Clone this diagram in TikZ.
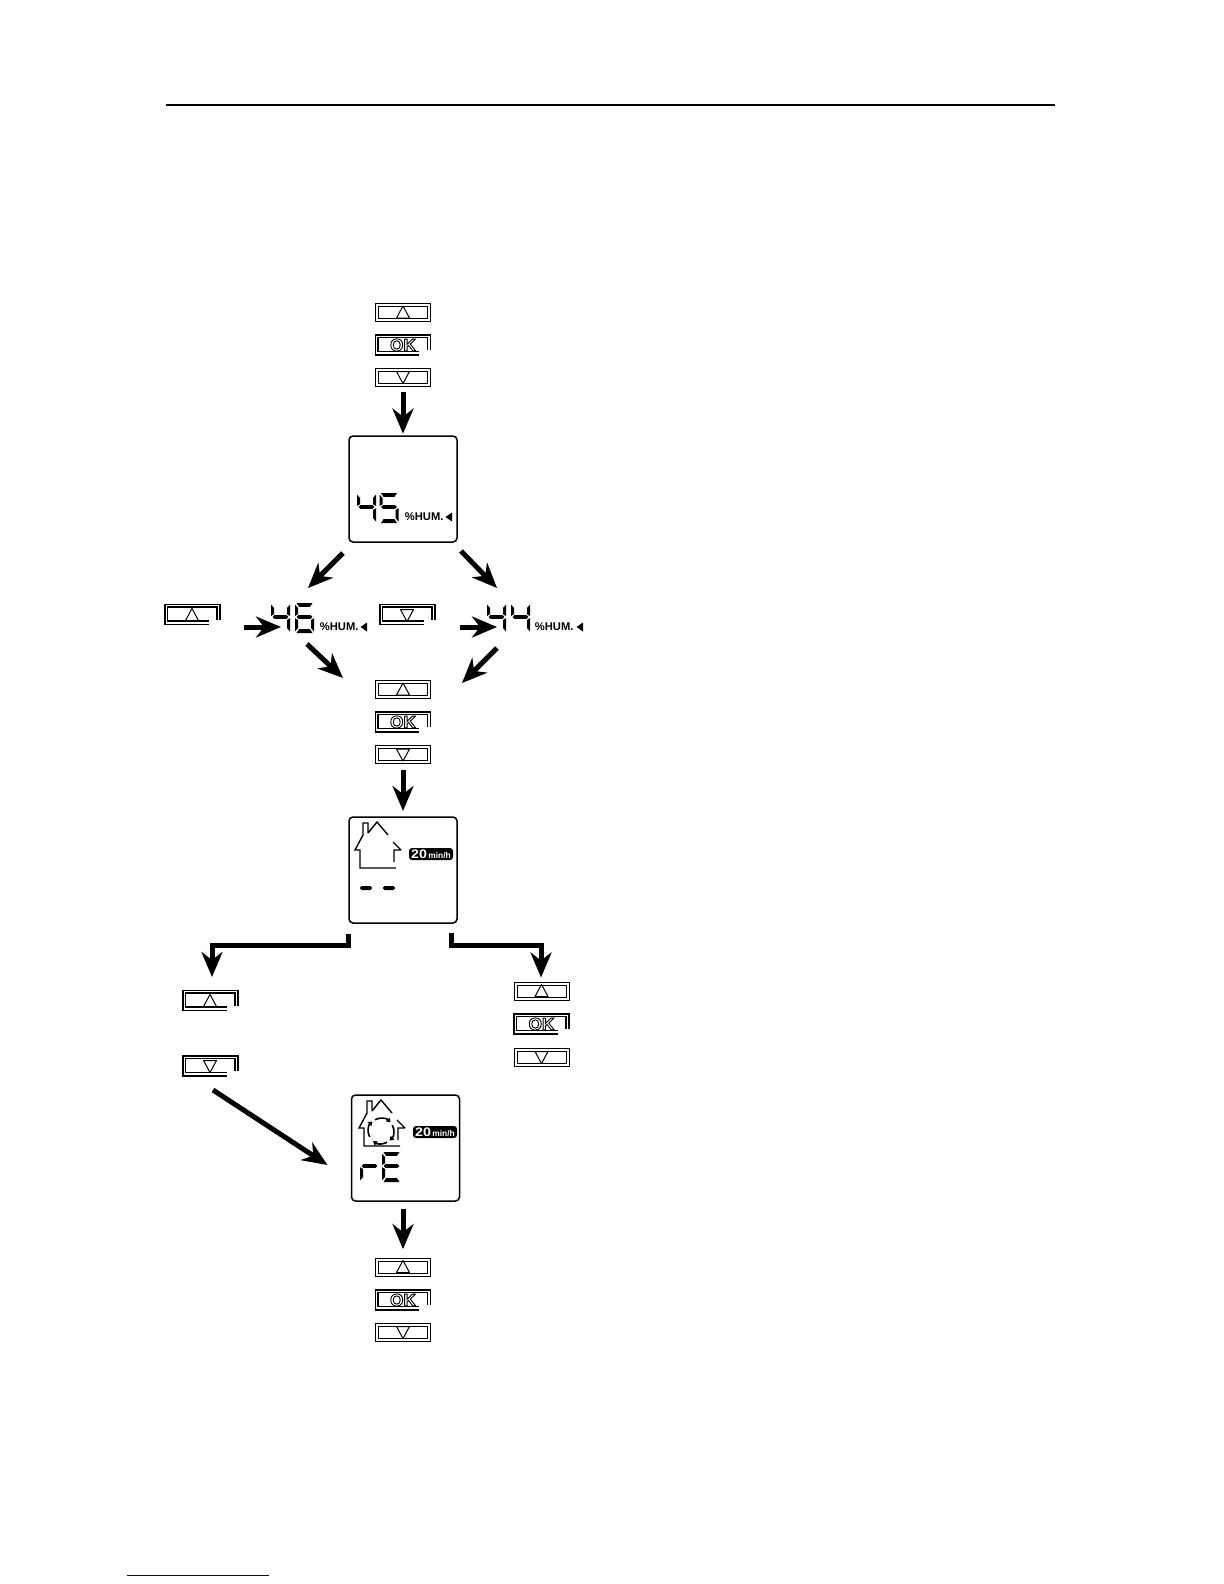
\documentclass[tikz,border=0pt]{standalone}
\usepackage{fontspec}
\setmainfont{Liberation Sans}
\usetikzlibrary{arrows.meta,calc}
\definecolor{linkblue}{RGB}{0,0,128}
\newcommand\dsega{(1.5,0)--(17.5,0)--(15,3.8)--(4,3.8)--cycle}
\newcommand\dsegd{(4,26.2)--(15,26.2)--(17.5,30)--(1.5,30)--cycle}
\newcommand\dsegg{(1.5,14)--(3.5,12.2)--(15.5,12.2)--(17.5,14)--(15.5,15.8)--(3.5,15.8)--cycle}
\newcommand\dsegf{(0,1.5)--(3,5)--(3,11.2)--(0,13)--cycle}
\newcommand\dsegb{(19,1.5)--(19,13)--(16,11.2)--(16,5)--cycle}
\newcommand\dsege{(0,15.2)--(3,17)--(3,25)--(0,28.5)--cycle}
\newcommand\dsegc{(19,15.2)--(19,28.5)--(16,25)--(16,17)--cycle}
\newcommand\onesegment[1]{\expandafter\fill\csname dseg#1\endcsname;}
\newcommand\sevenseg[3]{\begin{scope}[shift={(#1,#2)}]\foreach \s in {#3}{\onesegment{\s}}\end{scope}}
\newcommand\uptri[2]{\draw[glyphline,shift={(#1,#2)}] (0,-6.5)--(6.5,5.5)--(-6.5,5.5)--cycle;}
\newcommand\downtri[2]{\draw[glyphline,shift={(#1,#2)}] (0,6.5)--(6.5,-5.5)--(-6.5,-5.5)--cycle;}
\newcommand\opencase[2]{%
  \draw[btnline,shift={(#1,#2)}] (16,10)--(-27.5,10)--(-27.5,-10)--(27.5,-10)--(27.5,5);
  \draw[btnline,shift={(#1,#2)}] (16,6.5)--(-25,6.5)--(-25,-7.5)--(24.5,-7.5)--(24.5,5);}
\newcommand\okword{\special{pdf:code 1 Tr 0.45 w}OK\special{pdf:code 0 Tr}}
\newcommand\house[2]{%
  \draw[houseline,shift={(#1,#2)}] (388,835)--(377,822)--(368,833)--(368,823)--(363,823)--(363,835)--(355,850)--(360,850)--(360,868)--(396,868);
  \draw[houseline,shift={(#1,#2)}] (393,842)--(401,850)--(394,850)--(394,862);}
\newcommand\pointermark[2]{\fill[shift={(#1,#2)}] (-0.5,0)--(6,-4.5)--(6,4.5)--cycle;}
\newcommand\badgetext{\scalebox{1.15}[1]{\fontsize{6.2}{7}\selectfont 20}\fontsize{4.2}{5}\selectfont\,min/h}
\tikzset{
  x=0.5pt,y=-0.5pt,
  btnbox/.style={draw=black,double=white,double distance=1pt,line width=0.5pt,minimum width=26pt,minimum height=7.5pt,inner sep=0pt,outer sep=0pt,rectangle},
  opennode/.style={minimum width=27.5pt,minimum height=10pt,inner sep=0pt,outer sep=0pt,rectangle},
  btnline/.style={line width=0.55pt,black},
  glyphline/.style={line width=0.5pt,black,line join=round},
  disp/.style={draw=black,line width=0.75pt,rounded corners=2pt,minimum width=54pt,minimum height=53pt,inner sep=0pt,outer sep=0pt,rectangle},
  readout/.style={minimum width=48pt,minimum height=15pt,inner sep=0pt,outer sep=0pt,rectangle},
  okfont/.style={font=\fontsize{8.6}{9}\selectfont\bfseries,inner sep=0pt,black},
  humfont/.style={font=\fontsize{5.6}{6}\selectfont\bfseries,inner sep=0pt,anchor=west},
  badge/.style={fill=black,rounded corners=1.5pt,text=white,inner sep=0pt,minimum width=22pt,minimum height=6pt,font=\bfseries},
  arr/.style={line width=2.5pt,-{Stealth[length=12.5pt,width=10.5pt,inset=4pt]},black,line cap=butt,line join=miter},
  houseline/.style={line width=0.7pt,black,line join=miter,miter limit=2},
  ringline/.style={line width=0.8pt,black,-{Triangle[length=2pt,width=2.6pt]}},
}
\begin{document}
\begin{tikzpicture}
\fill[white] (0,0) rectangle (1224,1584);
\useasboundingbox (0,0) rectangle (1224,1584);
% rules
\draw[line width=1pt,black] (166,105)--(1055,105);
\draw[line width=0.5pt,linkblue] (127,1575)--(269,1575);
% first button stack
\node[btnbox] (upA) at (403,312.5) {}; \uptri{403}{312.5}
\opencase{403}{345} \node[opennode,okfont] (okA) at (403,345) {\okword};
\node[btnbox] (downA) at (403,377) {}; \downtri{403}{377}
% first display
\node[disp] (dispA) at (403,489) {};
\sevenseg{357}{493}{f,g,b,c}
\sevenseg{379.5}{493}{a,f,g,c,d}
\node[humfont] (humA) at (404.5,517) {\%HUM.};
\pointermark{446}{517}
% side buttons
\node[opennode] (upL) at (192.5,614.5) {}; \opencase{192.5}{614.5} \uptri{192}{615}
\node[opennode] (downM) at (407.5,614.5) {}; \opencase{407.5}{614.5} \downtri{407}{615}
% readouts
\node[readout] (roL) at (319,618) {};
\sevenseg{271}{603}{f,g,b,c}
\sevenseg{295}{603}{a,f,g,e,c,d}
\node[humfont] (humL) at (319.5,627) {\%HUM.};
\pointermark{361}{627}
\node[readout] (roR) at (535,618) {};
\sevenseg{487}{603}{f,g,b,c}
\sevenseg{511}{603}{f,g,b,c}
\node[humfont] (humR) at (534.5,627) {\%HUM.};
\pointermark{577}{627}
% second stack
\node[btnbox] (upB) at (403,689.5) {}; \uptri{403}{689.5}
\opencase{403}{722} \node[opennode,okfont] (okB) at (403,722) {\okword};
\node[btnbox] (downB) at (403,754.5) {}; \downtri{403}{754.5}
% second display
\node[disp] (dispB) at (403,870) {};
\house{0}{0}
\node[badge] (badgeB) at (431,854) {\badgetext};
\fill[rounded corners=0.8pt] (360,886) rectangle (372,890);
\fill[rounded corners=0.8pt] (383,886) rectangle (395,890);
% lower left
\node[opennode] (upC) at (210.5,1000.5) {}; \opencase{210.5}{1000.5} \uptri{210}{1001}
\node[opennode] (downC) at (210.5,1066) {}; \opencase{210.5}{1066} \downtri{210}{1066}
% right stack
\node[btnbox] (upR) at (541.5,991) {}; \uptri{541.5}{991}
\opencase{541.5}{1024} \node[opennode,okfont] (okR) at (541.5,1024) {\okword};
\node[btnbox] (downR) at (541.5,1057) {}; \downtri{541.5}{1057}
% third display
\node[disp] (dispC) at (405.5,1148) {};
\house{4}{278}
\foreach \a/\b in {118/42,28/-48,-62/-128,208/132}{
  \draw[ringline] (381,1131) ++(\a:6.4pt) arc[start angle=\a,end angle=\b,radius=6.4pt];
}
\node[badge] (badgeC) at (435,1132) {\badgetext};
\sevenseg{360}{1152}{g,e}
\sevenseg{382}{1152}{a,f,g,e,d}
% last stack
\node[btnbox] (upD) at (403,1267) {}; \uptri{403}{1267}
\opencase{403}{1300} \node[opennode,okfont] (okD) at (403,1300) {\okword};
\node[btnbox] (downD) at (403,1332) {}; \downtri{403}{1332}
% connectors
\draw[arr,shorten <=3.5pt,shorten >=1.2pt] (downA.south) -- (dispA.north);
\draw[arr] ([shift={(-6,11)}]dispA.south west) -- ([shift={(-11,-15)}]roL.north);
\draw[arr] ([shift={(4,9)}]dispA.south east) -- ([shift={(-38,-15)}]roR.north);
\draw[arr] ([shift={(24,2.5)}]upL.south east) -- ([shift={(10,9)}]roL.west);
\draw[arr] ([shift={(25,2.5)}]downM.south east) -- ([shift={(10,9)}]roR.west);
\draw[arr] ([shift={(-12,11)}]roL.south) -- ([shift={(-34,-11.5)}]upB.west);
\draw[arr] ([shift={(-38,15)}]roR.south) -- ([shift={(33,-6.5)}]upB.east);
\draw[arr,shorten <=4pt,shorten >=3pt] (downB.south) -- (dispB.north);
\coordinate (elbowL) at (212,945);
\coordinate (elbowR) at (541,945);
\draw[arr] ([shift={(-1,11)}]dispB.south west) |- (elbowL) -- ([shift={(1.5,-13.5)}]upC.north);
\draw[arr] ([shift={(-6,10)}]dispB.south east) |- (elbowR) -- ([shift={(-0.5,-6)}]upR.north);
\draw[arr] ([shift={(2.5,14)}]downC.south) -- ([shift={(-24,17)}]dispC.west);
\draw[arr,shorten >=5.2pt,shorten <=4pt] ([xshift=-1.25pt]dispC.south) -- (upD.north);
\end{tikzpicture}
\end{document}
